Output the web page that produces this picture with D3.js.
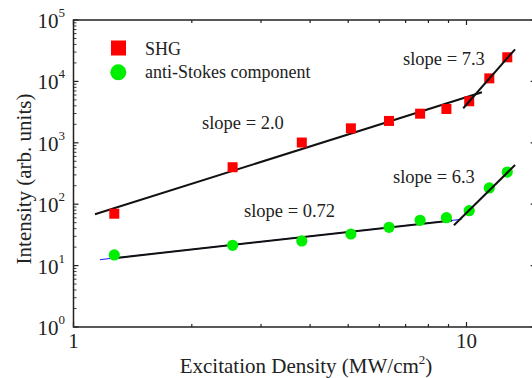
<!DOCTYPE html>
<html><head><meta charset="utf-8">
<script src="https://cdn.jsdelivr.net/npm/d3@7/dist/d3.min.js"></script>
<style>
html,body{margin:0;padding:0;background:#fff;}
svg{display:block;}
svg text{font-family:"Liberation Serif","DejaVu Serif",serif;}
</style></head>
<body>
<script>
// ---- data ----
const excitation = [1.27, 2.54, 3.81, 5.08, 6.35, 7.62, 8.89, 10.16, 11.43, 12.7];
const shgValues = [70, 400, 1010, 1720, 2270, 2980, 3550, 4750, 11200, 24700];
const antiStokesValues = [14.9, 21.4, 25.2, 32.7, 42, 54.7, 60.3, 78.4, 184, 334];
const fitShgLowX = [1.134, 10.95], fitShgLowY = [68.5, 6640];
const fitShgHighX = [9.81, 13.29], fitShgHighY = [3650, 33300];
const fitAsLowX = [1.253, 9.19], fitAsLowY = [13.1, 54.5];
const fitAsLowBlueX = [1.168, 9.72], fitAsLowBlueY = [12.5, 56.8];
const fitAsHighX = [9.29, 13.29], fitAsHighY = [45.3, 435];
const yTickExps = [0, 1, 2, 3, 4, 5];
const xTickLabels = [1, 10];
const legendLabels = ["SHG", "anti-Stokes component"];
const slopeLabels = ["slope = 2.0", "slope = 7.3", "slope = 0.72", "slope = 6.3"];

const FONT = "'Liberation Serif', 'DejaVu Serif', serif";
const W = 532, H = 378;
const svg = d3.select("body").append("svg").attr("width", W).attr("height", H)
  .attr("font-family", FONT).attr("fill", "#222");

const x = d3.scaleLog().domain([1, 15]).range([73.5, 535.7]);
const y = d3.scaleLog().domain([1, 1e5]).range([327, 20]);
const [x0, x1] = x.range(), [y0, y1] = y.range();

const xMinor = [2,3,4,5,6,7,8,9];
const xMajor = [1, 10];
const yMinor = [];
for (let e = 0; e < 5; e++) for (let m = 2; m <= 9; m++) yMinor.push(m * Math.pow(10, e));
const yMajor = yTickExps.map(e => Math.pow(10, e));

const g = svg.append("g").attr("stroke", "#222").attr("stroke-width", 1.2);
xMajor.forEach(v => {
  g.append("line").attr("x1", x(v)).attr("x2", x(v)).attr("y1", y0).attr("y2", y0 - 5);
  g.append("line").attr("x1", x(v)).attr("x2", x(v)).attr("y1", y1).attr("y2", y1 + 5);
});
xMinor.forEach(v => {
  g.append("line").attr("x1", x(v)).attr("x2", x(v)).attr("y1", y0).attr("y2", y0 - 3);
  g.append("line").attr("x1", x(v)).attr("x2", x(v)).attr("y1", y1).attr("y2", y1 + 3);
});
yMajor.forEach(v => {
  g.append("line").attr("x1", x0).attr("x2", x0 + 5).attr("y1", y(v)).attr("y2", y(v));
  g.append("line").attr("x1", x1).attr("x2", x1 - 5).attr("y1", y(v)).attr("y2", y(v));
});
yMinor.forEach(v => {
  g.append("line").attr("x1", x0).attr("x2", x0 + 3).attr("y1", y(v)).attr("y2", y(v)).attr("stroke-width", 0.9);
});
svg.append("rect").attr("x", x0).attr("y", y1).attr("width", x1 - x0).attr("height", y0 - y1)
  .attr("fill", "none").attr("stroke", "#222").attr("stroke-width", 1.5);

function txt(px, py, size) {
  return svg.append("text").attr("x", px).attr("y", py).attr("font-family", FONT)
    .attr("font-size", size).attr("fill", "#222");
}

yTickExps.forEach(e => {
  const t = txt(65, y(Math.pow(10, e)) + 8, 21).attr("text-anchor", "end");
  t.append("tspan").text("10");
  t.append("tspan").attr("dy", -11).attr("font-size", 13).text(String(e));
});
xTickLabels.forEach(v => {
  txt(x(v), 348, 21).attr("text-anchor", "middle").text(String(v));
});

const xt = txt(306, 373, 21).attr("text-anchor", "middle");
xt.append("tspan").text("Excitation Density (MW/cm");
xt.append("tspan").attr("dy", -9).attr("font-size", 13).text("2");
xt.append("tspan").attr("dy", 9).text(")");
txt(0, 0, 21).attr("transform", "translate(31,179) rotate(-90)").attr("text-anchor", "middle")
  .text("Intensity (arb. units)");

const line = d3.line().x(d => x(d[0])).y(d => y(d[1]));
function fit(xs, ys, color, w) {
  svg.append("path").attr("d", line(d3.zip(xs, ys))).attr("fill", "none")
    .attr("stroke", color).attr("stroke-width", w);
}
fit(fitAsLowBlueX, fitAsLowBlueY, "#1a1aff", 1);
fit(fitShgLowX, fitShgLowY, "#111", 2);
fit(fitAsLowX, fitAsLowY, "#111", 2);

const sq = 10;
svg.append("g").selectAll("rect").data(d3.zip(excitation, shgValues)).join("rect")
  .attr("x", d => x(d[0]) - sq / 2).attr("y", d => y(d[1]) - sq / 2)
  .attr("width", sq).attr("height", sq).attr("fill", "#ff0000");
svg.append("g").selectAll("circle").data(d3.zip(excitation, antiStokesValues)).join("circle")
  .attr("cx", d => x(d[0])).attr("cy", d => y(d[1])).attr("r", 5.6).attr("fill", "#00ee00");

fit(fitShgHighX, fitShgHighY, "#111", 2);
fit(fitAsHighX, fitAsHighY, "#111", 2);

const slopePos = [[202, 129], [403, 65], [244, 217], [393, 183]];
slopeLabels.forEach((s, i) => {
  txt(slopePos[i][0], slopePos[i][1], 18.5).text(s);
});

svg.append("rect").attr("x", 111).attr("y", 40.5).attr("width", 15).attr("height", 15).attr("fill", "#ff0000");
svg.append("circle").attr("cx", 118.3).attr("cy", 72.3).attr("r", 8).attr("fill", "#00ee00");
txt(145, 54.5, 18).text(legendLabels[0]);
txt(145, 77.5, 18).text(legendLabels[1]);
</script>
</body></html>
